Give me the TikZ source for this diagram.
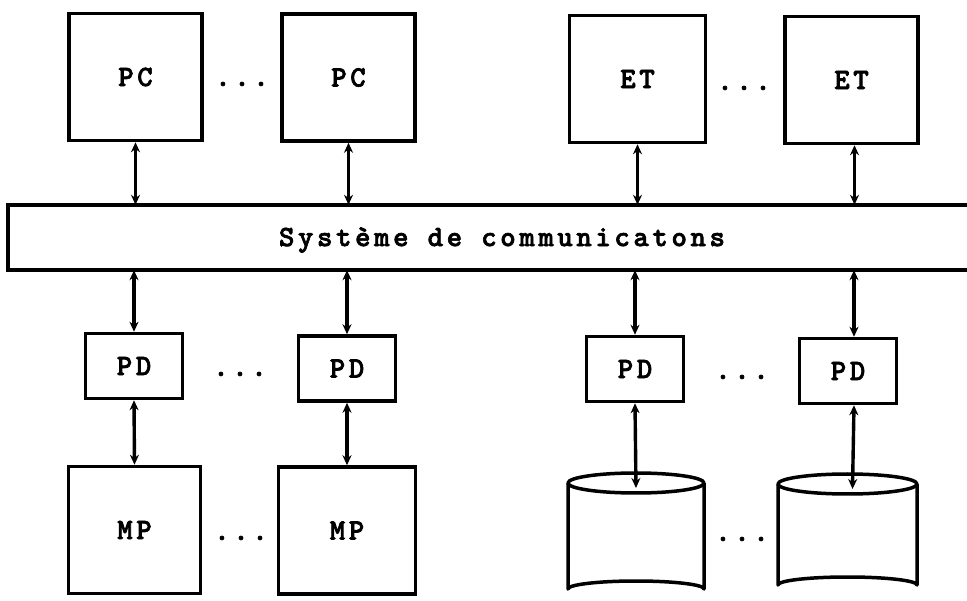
\documentclass[tikz,border=0pt]{standalone}
\usepackage{fontspec}
\newfontfamily\printfont{lmmonolt10-bold}[Extension=.otf,LetterSpace=12,FakeBold=2.2]
\usetikzlibrary{arrows.meta,calc}
\begin{document}
\begin{tikzpicture}[x=1pt,y=-1pt,
  every node/.style={font=\printfont\fontsize{29.5}{34}\selectfont},
  unit/.style={draw,line width=3.5pt,inner sep=0pt},
  bigbox/.style={unit,minimum width=133pt,minimum height=127pt},
  pdbox/.style={unit,minimum width=97pt,minimum height=65pt},
  link/.style={line width=3.4pt,{Stealth[length=10pt,width=9pt]}-{Stealth[length=10pt,width=9pt]}},
  ellip/.style={anchor=base},
  disk/.style={line width=3.5pt,line join=round}]
\useasboundingbox (0,0) rectangle (967,601);

% processors and terminals
\node[bigbox] (pc1) at (135.5,77) {PC};
\node[bigbox] (pc2) at (348.5,77.5) {PC};
\node[bigbox,minimum width=136pt] (et1) at (637.5,79) {ET};
\node[bigbox] (et2) at (851.5,80) {ET};

% communication bus, open on the right
\node[minimum width=959pt,minimum height=65pt,inner sep=0pt] (bus) at (487.5,237.5) {};
\draw[line width=3.5pt] (bus.north east) -- (bus.north west) -- (bus.south west) -- (bus.south east);
\node (buslabel) at (502,240) {Système de communicatons};

% disk processors
\node[pdbox] (pd1) at (134,366) {PD};
\node[pdbox] (pd2) at (347,368.5) {PD};
\node[pdbox] (pd3) at (635,369) {PD};
\node[pdbox] (pd4) at (848,371) {PD};

% memories
\node[bigbox,minimum width=132pt] (mp1) at (134.5,530) {MP};
\node[bigbox,minimum width=137pt] (mp2) at (347,530.5) {MP};

% disks
\node[minimum width=136pt,minimum height=125pt,inner sep=0pt] (dk1) at (636,535) {};
\node[minimum width=139pt,minimum height=120pt,inner sep=0pt] (dk2) at (847.5,533) {};
\draw[disk] (636,483) ellipse [x radius=68, y radius=10];
\draw[disk] (568,483) -- (568,589) arc[start angle=180,end angle=360,x radius=68,y radius=8] -- (704,483);
\draw[disk] (847.5,484) ellipse [x radius=69.5, y radius=10];
\draw[disk] (778,484) -- (778,585) arc[start angle=180,end angle=360,x radius=69.5,y radius=8] -- (917,484);
\coordinate (dk1top) at (dk1.north |- 0,488);
\coordinate (dk2top) at ($(dk2.north |- 0,489)+(5,0)$);

% ellipses between repeated units
\node[ellip] (d1) at (242,86) {...};
\node[ellip] (d2) at (744,90) {...};
\node[ellip] (d3) at (240,376) {...};
\node[ellip] (d4) at (742,379) {...};
\node[ellip] (d5) at (241,540) {...};
\node[ellip] (d6) at (742,541) {...};

% links
\draw[link] (pc1.south) -- (pc1.south |- bus.north);
\draw[link] (pc2.south) -- (pc2.south |- bus.north);
\draw[link] (et1.south) -- (et1.south |- bus.north);
\draw[link] ($(et2.south)+(3,0)$) -- ($(et2.south |- bus.north)+(3,0)$);
\draw[link] (pd1.north |- bus.south) -- (pd1.north);
\draw[link] (pd2.north |- bus.south) -- (pd2.north);
\draw[link] (pd3.north |- bus.south) -- (pd3.north);
\draw[link] ($(pd4.north |- bus.south)+(6,0)$) -- ($(pd4.north)+(6,0)$);
\draw[link] (pd1.south) -- (mp1.north);
\draw[link] (pd2.south) -- (mp2.north);
\draw[link] (pd3.south) -- (dk1top);
\draw[link] ($(pd4.south)+(6,0)$) -- (dk2top);
\end{tikzpicture}
\end{document}
